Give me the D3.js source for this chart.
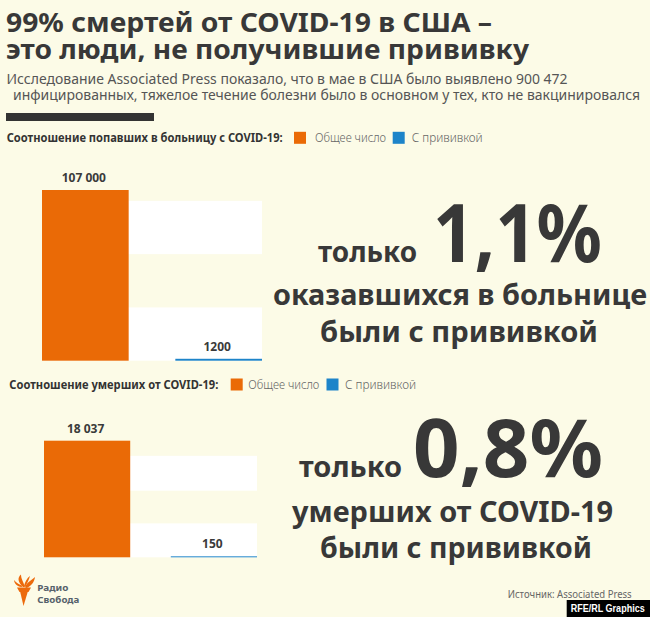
<!DOCTYPE html>
<html>
<head>
<meta charset="utf-8">
<script src="https://cdn.jsdelivr.net/npm/d3@7"></script>
<style>
  html, body { margin: 0; padding: 0; background: #fcfbe7; }
  svg { display: block; }
  text { font-family: "Noto Sans", "Open Sans", sans-serif; }
</style>
</head>
<body>
<svg id="chart" width="650" height="617"></svg>
<script>
// ---------- data ----------
const categories = ["Общее число", "С прививкой"];
const hospitalValues = [107000, 1200];
const hospitalLabels = ["107 000", "1200"];
const deathValues = [18037, 150];
const deathLabels = ["18 037", "150"];
const hospitalBands = [[0, 33400], [66800, 100200]];
const deathBands = [[0, 5250], [10300, 15700]];
const seriesColors = ["#ea6a06", "#1d84c9"];
const titleLines = ["99% смертей от COVID-19 в США –", "это люди, не получившие прививку"];
const subtitleLines = [
  "Исследование Associated Press показало, что в мае в США было выявлено 900 472",
  "инфицированных, тяжелое течение болезни было в основном у тех, кто не вакцинировался"
];
const legendTitles = ["Соотношение попавших в больницу с COVID-19:", "Соотношение умерших от COVID-19:"];
const sharesText = ["1,1%", "0,8%"];
const calloutLines = [
  ["оказавшихся в больнице", "были с прививкой"],
  ["умерших от COVID-19", "были с прививкой"]
];

// ---------- drawing ----------
const svg = d3.select("#chart");
const dark = "#383838";

svg.append("rect").attr("width", 650).attr("height", 617).attr("fill", "#fcfbe7");

function fitText(sel, w) {
  if (w) sel.attr("textLength", w).attr("lengthAdjust", "spacingAndGlyphs");
  return sel;
}
function addText(t, x, y, size, weight, color, w, anchor) {
  const s = svg.append("text")
    .attr("x", x).attr("y", y)
    .attr("font-size", size).attr("font-weight", weight)
    .attr("fill", color)
    .attr("text-anchor", anchor || "start")
    .text(t);
  return fitText(s, w);
}

// Title
addText(titleLines[0], 6, 31.5, 26, 700, dark, 486);
addText(titleLines[1], 6, 58.5, 26, 700, dark, 523);
// Subtitle
addText(subtitleLines[0], 6.5, 84, 14, 400, "#555", 561);
addText(subtitleLines[1], 13, 99.5, 14, 400, "#555", 627);
// dark rule
svg.append("rect").attr("x", 6).attr("y", 113).attr("width", 148).attr("height", 8).attr("fill", "#333");

// Legends
function legend(title, titleW, y, sq1x, t1x, sq2x, t2x) {
  addText(title, titleW[0], y, 12.5, 700, "#333", titleW[1]);
  svg.append("rect").attr("x", sq1x).attr("y", y - 10.5).attr("width", 12).attr("height", 12).attr("fill", seriesColors[0]);
  addText(categories[0], t1x, y, 12.5, 300, "#666", 71);
  svg.append("rect").attr("x", sq2x).attr("y", y - 10.5).attr("width", 12).attr("height", 12).attr("fill", seriesColors[1]);
  addText(categories[1], t2x, y, 12.5, 300, "#666", 71);
}
legend(legendTitles[0], [6.7, 276], 142.3, 294, 315, 392.7, 411.7);
legend(legendTitles[1], [9.3, 209], 389, 230.7, 248.3, 326.5, 345);

// Bar panels
function panel(values, labels, bands, xRange, yRange, pad) {
  const x = d3.scaleBand().domain(categories).range(xRange).paddingInner(pad).paddingOuter(0);
  const y = d3.scaleLinear().domain([0, d3.max(values)]).range(yRange);
  const g = svg.append("g");
  g.selectAll("rect.band").data(bands).join("rect")
    .attr("class", "band")
    .attr("x", xRange[0]).attr("width", xRange[1] - xRange[0])
    .attr("y", d => y(d[1])).attr("height", d => y(d[0]) - y(d[1]))
    .attr("fill", "#ffffff");
  const data = categories.map((c, i) => ({ c, v: values[i], l: labels[i], col: seriesColors[i] }));
  g.selectAll("rect.bar").data(data).join("rect")
    .attr("class", "bar")
    .attr("x", d => x(d.c)).attr("width", x.bandwidth())
    .attr("y", d => y(d.v)).attr("height", d => y(0) - y(d.v))
    .attr("fill", d => d.col);
  g.selectAll("text.lab").data(data).join("text")
    .attr("class", "lab")
    .attr("x", d => x(d.c) + x.bandwidth() / 2 - 1.5)
    .attr("y", d => y(d.v) - 8)
    .attr("text-anchor", "middle")
    .attr("font-size", 12).attr("font-weight", 700)
    .attr("fill", "#3a3a3a")
    .text(d => d.l);
}
panel(hospitalValues, hospitalLabels, hospitalBands, [42, 262], [360.7, 190], 0.35);
panel(deathValues, deathLabels, deathBands, [44, 257], [557.3, 440.7], 0.32);

// Callouts
addText("только", 318, 261.7, 28, 700, dark, 99);
addText(sharesText[0], 433, 261.7, 80, 700, dark, 169);
addText(calloutLines[0][0], 273, 305, 28, 700, dark, 374);
addText(calloutLines[0][1], 320, 341.7, 28, 700, dark, 278);

addText("только", 299, 477, 28, 700, dark, 103);
addText(sharesText[1], 413, 477, 80, 700, dark, 190);
addText(calloutLines[1][0], 292, 521.7, 28, 700, dark, 321);
addText(calloutLines[1][1], 320, 558.3, 28, 700, dark, 272);

// Source & credit
addText("Источник: Associated Press", 507.7, 597.5, 11, 400, "#666", 124);
svg.append("rect").attr("x", 566.7).attr("y", 600).attr("width", 84).attr("height", 17).attr("fill", "#000");
svg.append("text").attr("x", 570.7).attr("y", 612.3)
  .attr("font-size", 11).attr("font-weight", 700).attr("fill", "#fff")
  .style("font-family", "'Liberation Sans', Arial, sans-serif")
  .attr("textLength", 74).attr("lengthAdjust", "spacingAndGlyphs")
  .text("RFE/RL Graphics");

// Logo (Радио Свобода)
const logo = svg.append("g").attr("fill", "#ec6a0c");
logo.append("path").attr("d", "M20,591 L28,591 L23.5,606 Z");
logo.append("path").attr("d", "M17,587.5 L31,587.5 L28.5,592 L19.5,592 Z");
logo.append("path").attr("d", "M23,587 C18,582 17,578 21,574.5 C21,579 23.5,582 25,587 Z");
logo.append("path").attr("d", "M25,587 C28,581 32,580 35,577 C34.5,582 31,586 26.5,588 Z");
logo.append("path").attr("d", "M21.5,587 C17,586.5 14.5,584 14,580 C16.5,583 19,584.5 22.5,586 Z");
logo.append("path").attr("d", "M24,586 C25,582 27,578 30,576 C29,580 27,583 25.5,586.5 Z");
addText("Радио", 37.3, 591, 9, 700, "#56616b", 31);
addText("Свобода", 37.3, 603, 9, 700, "#56616b", 42);
</script>
</body>
</html>
